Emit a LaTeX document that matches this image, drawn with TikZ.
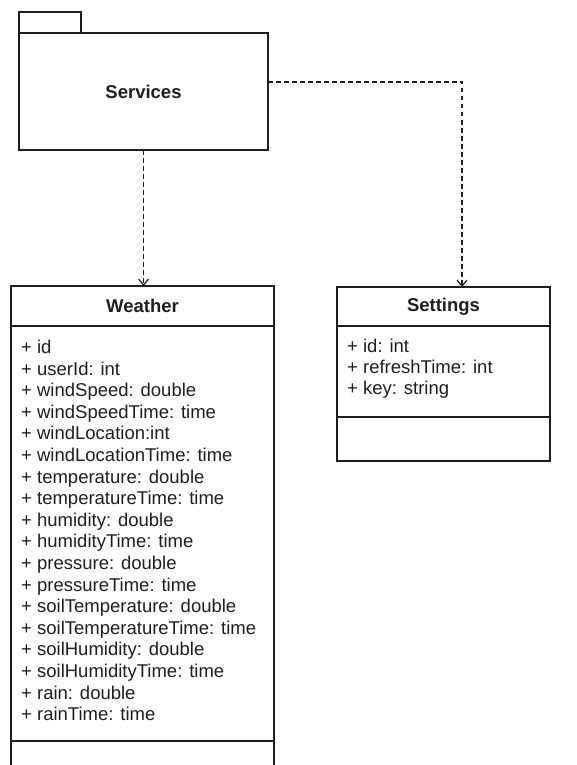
\documentclass[tikz,border=0pt]{standalone}
\usepackage{fontspec}
\setmainfont{Liberation Sans}
\usetikzlibrary{arrows.meta}
\definecolor{ink}{HTML}{1E1E1E}
\begin{document}
\begin{tikzpicture}[x=1pt,y=-1pt,
  box/.style={draw=ink, line width=1.4pt, inner sep=0pt, outer sep=0pt},
  attr/.style={anchor=base west, inner sep=0pt, text=ink, font=\fontsize{18.5}{21.6}\selectfont},
  titletext/.style={text=ink, font=\bfseries\fontsize{18.5}{21.6}\selectfont},
  dep/.style={draw=ink, line width=1.2pt, dash pattern=on 4.5pt off 3.5pt, -{Straight Barb[length=6pt,width=10pt]}}]
\useasboundingbox (0,0) rectangle (576,765);
\clip (0,0) rectangle (576,765);
% Services package
\node[box, titletext, anchor=north west, minimum width=249pt, minimum height=117pt] (services) at (19,33) {Services};
\node[box, anchor=south west, minimum width=62pt, minimum height=21pt] (tab) at (services.north west) {};
% Weather class
\node[box, titletext, anchor=north west, minimum width=263pt, minimum height=40pt] (weatherhead) at (11,286) {Weather};
\node[box, anchor=north west, minimum width=263pt, minimum height=415pt] (weatherattrs) at (weatherhead.south west) {};
\node[box, anchor=north west, minimum width=263pt, minimum height=50pt] (weatherops) at (weatherattrs.south west) {};
\foreach \t [count=\i] in {+ id, + userId: int, + windSpeed: double, + windSpeedTime: time, + windLocation:int, + windLocationTime: time, + temperature: double, + temperatureTime: time, + humidity: double, + humidityTime: time, + pressure: double, + pressureTime: time, + soilTemperature: double, + soilTemperatureTime: time, + soilHumidity: double, + soilHumidityTime: time, + rain: double, + rainTime: time}
  \node[attr] (w\i) at (21, {353.5 + (\i-1)*21.6}) {\t};
% Settings class
\node[box, titletext, anchor=north west, minimum width=213pt, minimum height=39pt] (settingshead) at (337,287) {Settings};
\node[box, anchor=north west, minimum width=213pt, minimum height=91pt] (settingsattrs) at (settingshead.south west) {};
\node[box, anchor=north west, minimum width=213pt, minimum height=44pt] (settingsops) at (settingsattrs.south west) {};
\foreach \t [count=\i] in {+ id: int, + refreshTime: int, + key: string}
  \node[attr] (s\i) at (347, {352.5 + (\i-1)*21.2}) {\t};
% dependencies
\draw[dep] (services.south) -- (services.south |- weatherhead.north);
\coordinate (bend) at (462,82);
\draw[dep] (services.east |- bend) -- (bend) -- (bend |- settingshead.north);
\end{tikzpicture}
\end{document}
